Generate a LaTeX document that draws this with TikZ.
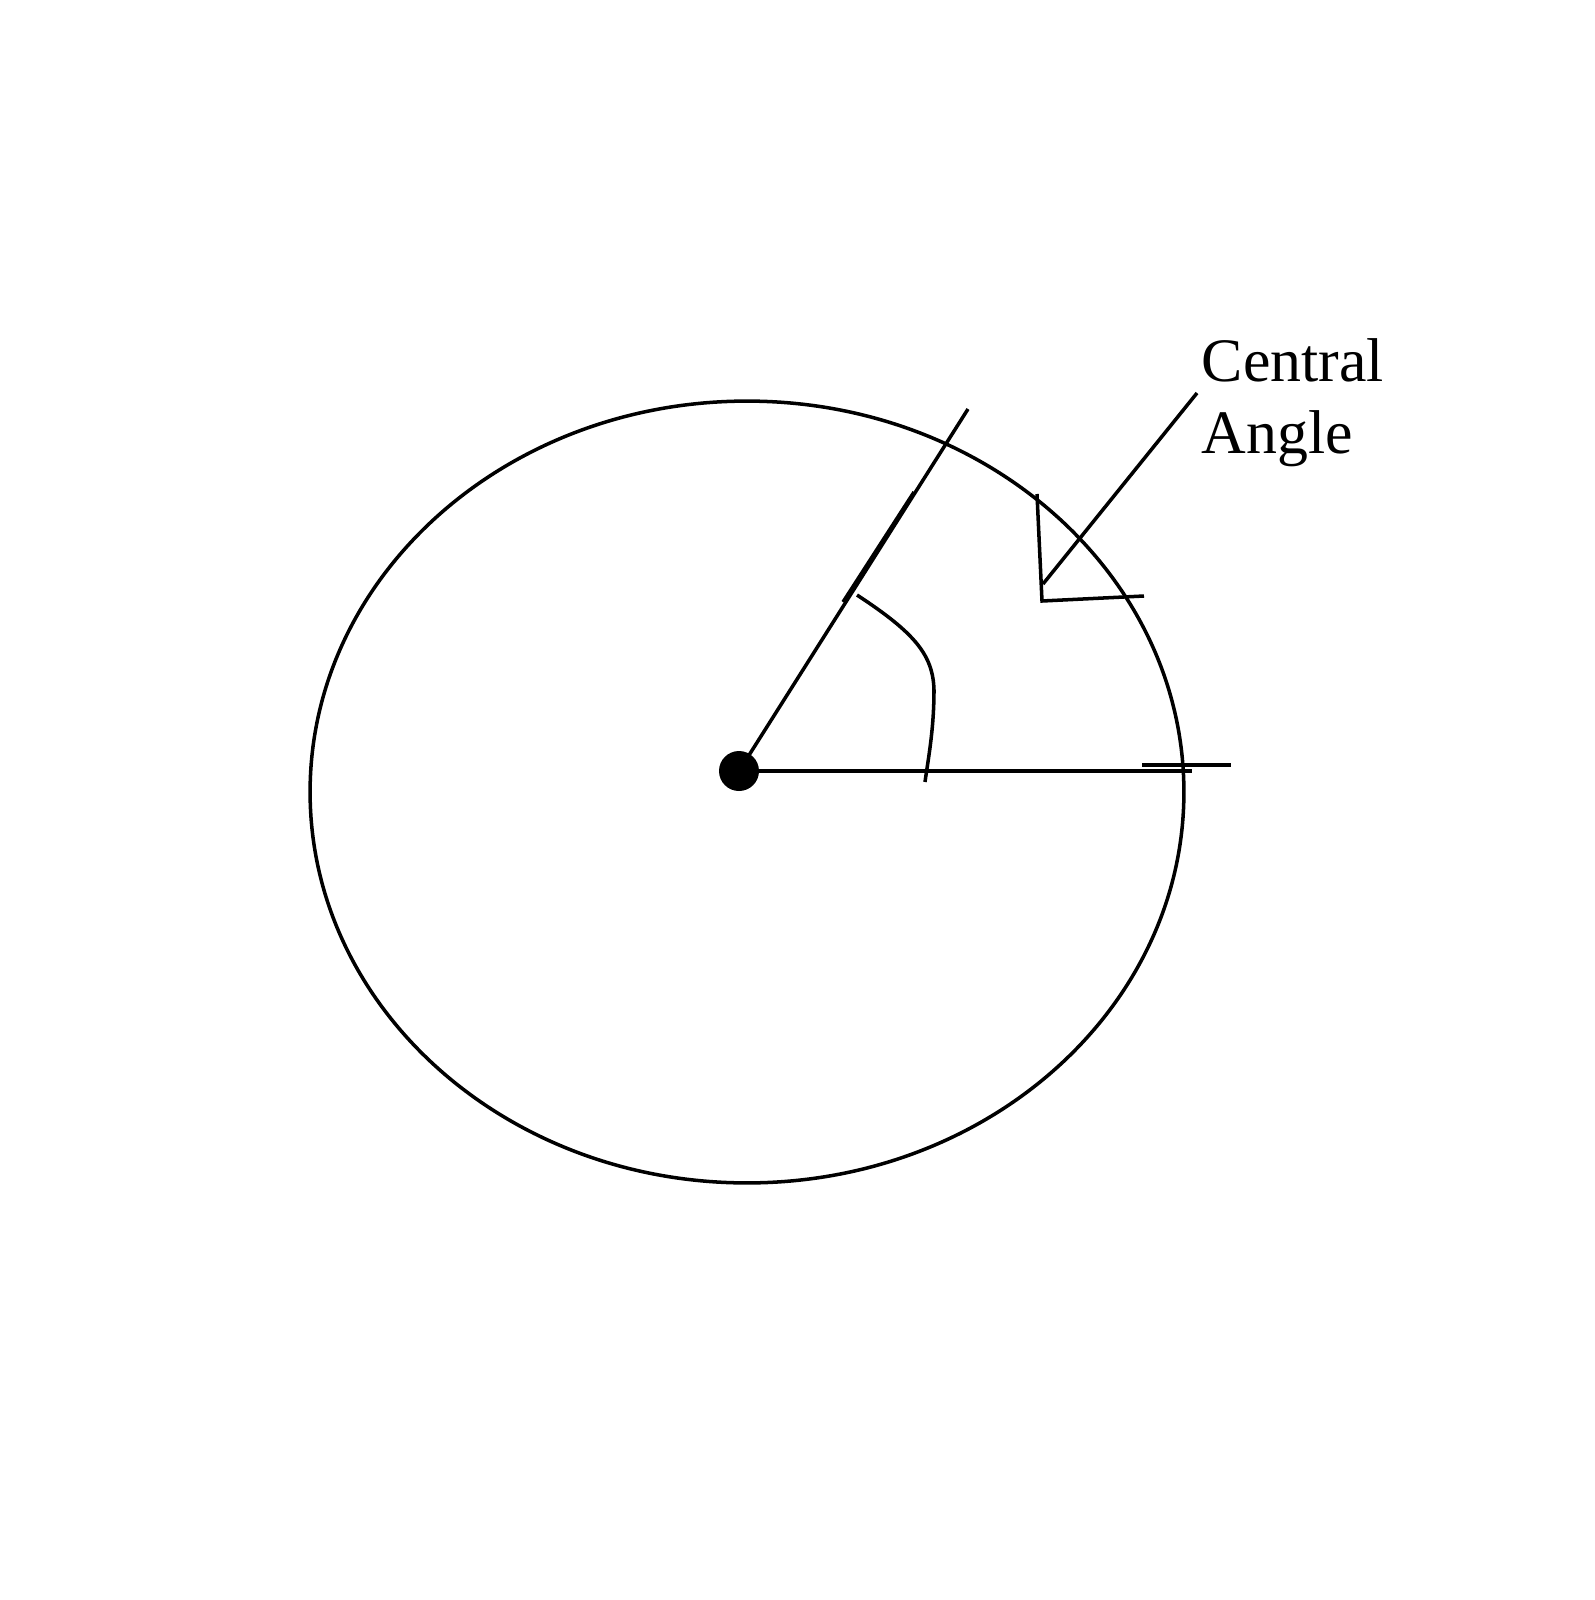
\documentclass[tikz,border=0pt]{standalone}
\usepackage{fontspec}
\setmainfont{Liberation Serif}
\begin{document}
\begin{tikzpicture}[x=0.02cm,y=-0.02cm,line width=2pt,
  every node/.style={inner sep=0pt}]
\useasboundingbox (0,0) rectangle (1595,1600);
\draw (747,792) ellipse [x radius=8.74cm, y radius=7.82cm];
\node[circle,fill=black,minimum size=0.8cm] (O) at (739,771) {};
\coordinate (A) at (1192,771);
\coordinate (B) at (968,409);
\draw (O.center) -- (A);
\draw (O.center) -- (B);
\draw (843,602) -- (914,492);
\draw (1142,765) -- (1231,765);
\draw (857,595) .. controls (915,633) and (933,655) .. (934,690) .. controls (934,730) and (928,760) .. (925,782);
\draw (1037,494) -- (1042,601) -- (1144,596);
\node[anchor=base west,align=left,font=\fontsize{35.2}{40.7}\selectfont] (lbl) at (1200,453) {Central\\Angle};
\coordinate (tip) at (1043,584);
\draw (tip) -- (1197,393);
\end{tikzpicture}
\end{document}
